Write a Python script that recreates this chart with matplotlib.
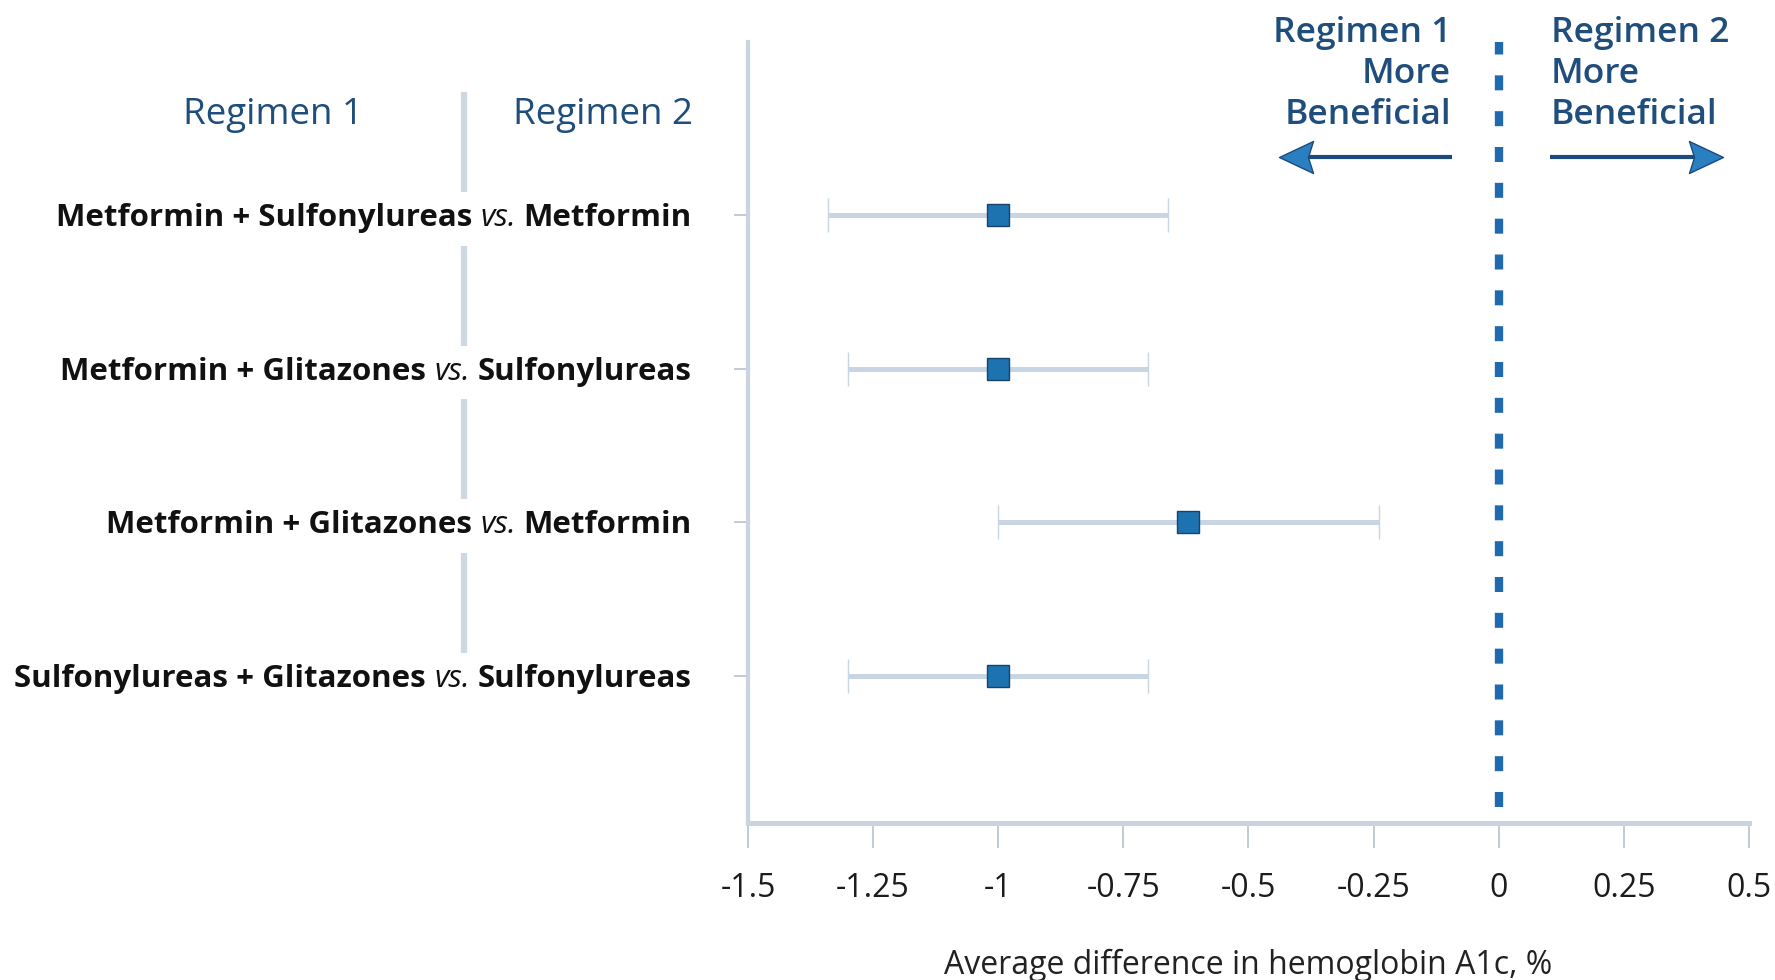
import numpy as np
import matplotlib
matplotlib.use("Agg")
import matplotlib.pyplot as plt
import matplotlib.transforms as mtransforms
from matplotlib.lines import Line2D
from matplotlib.path import Path

# ---- data ----
regimen_1 = ["Metformin + Sulfonylureas", "Metformin + Glitazones",
             "Metformin + Glitazones", "Sulfonylureas + Glitazones"]
regimen_2 = ["Metformin", "Sulfonylureas", "Metformin", "Sulfonylureas"]
mean_diff = [-1.00, -1.00, -0.62, -1.00]
ci_low = [-1.34, -1.30, -1.00, -1.30]
ci_high = [-0.66, -0.70, -0.24, -0.70]

x_ticks = [-1.5, -1.25, -1.0, -0.75, -0.5, -0.25, 0.0, 0.25, 0.5]
x_tick_labels = ["-1.5", "-1.25", "-1", "-0.75", "-0.5", "-0.25", "0", "0.25", "0.5"]
x_label = "Average difference in hemoglobin A1c, %"
column_headers = ["Regimen 1", "Regimen 2"]
favours_left = "Regimen 1\nMore\nBeneficial"
favours_right = "Regimen 2\nMore\nBeneficial"

# ---- style ----
plt.rcParams["font.family"] = ["Open Sans", "DejaVu Sans"]
NAVY = "#1f4d7c"
POINT_FACE = "#1d72b0"
POINT_EDGE = "#18436b"
CI_COLOR = "#c8d5e2"
AXIS_COLOR = "#c9d4e0"
DIVIDER_COLOR = "#cdd8e3"
TICK_COLOR = "#b6c2cf"
ZERO_COLOR = "#1f69ae"
ARROW_FACE = "#2a7fc0"
ARROW_EDGE = "#1b4a80"

W, H = 1775, 980
fig = plt.figure(figsize=(W / 100, H / 100), dpi=100)
fig.patch.set_facecolor("white")


def fig_xy(px, py):
    """Pixel position (from top-left) to figure fraction."""
    return px / W, 1 - py / H


ax = fig.add_axes([748 / W, 1 - 823 / H, 1001 / W, 781 / H])

rows = np.arange(len(mean_diff))
mean = np.asarray(mean_diff)
err = [mean - np.asarray(ci_low), np.asarray(ci_high) - mean]

ax.errorbar(mean, rows, xerr=err, fmt="s", ms=16.5, mfc=POINT_FACE,
            mec=POINT_EDGE, mew=1.0, ecolor=CI_COLOR, elinewidth=3.6,
            capsize=12, capthick=1.2, zorder=3)

# line of no difference
ax.axvline(0, ymin=0.02, ymax=1.0, color=ZERO_COLOR, lw=6.0,
           linestyle=(0, (1.8, 2.5)), zorder=2, clip_on=False)

ax.set_xlim(-1.5, 0.5)
ax.set_ylim(3.956, -1.126)
ax.set_xticks(x_ticks)
ax.set_xticklabels(x_tick_labels)
ax.set_yticks(rows)
ax.set_yticklabels([])

for side in ("top", "right"):
    ax.spines[side].set_visible(False)
ax.spines["left"].set_color(AXIS_COLOR)
ax.spines["left"].set_linewidth(3.0)
ax.spines["bottom"].set_color(AXIS_COLOR)
ax.spines["bottom"].set_linewidth(3.6)

ax.tick_params(axis="x", direction="out", length=18, width=1.2,
               color=TICK_COLOR, pad=17, labelsize=23, labelcolor="#1c1c1c")
ax.tick_params(axis="y", direction="out", length=10, width=1.2,
               color=TICK_COLOR, labelleft=False)
ax.set_xlabel(x_label, fontsize=23, labelpad=32, color="#222222")

# ---- comparison labels: "Regimen 1  vs.  Regimen 2" ----
renderer = fig.canvas.get_renderer()
label_tf = (mtransforms.blended_transform_factory(mtransforms.IdentityTransform(), ax.transData)
            + mtransforms.ScaledTranslation(0, -11 / 100, fig.dpi_scale_trans))
right_edge = 692
for row, r1, r2 in zip(rows, regimen_1, regimen_2):
    x = right_edge
    for txt, weight, style, gap in ((r2, "bold", "normal", 8),
                                    ("vs.", "normal", "italic", 8),
                                    (r1, "bold", "normal", 0)):
        t = fig.text(x, row, txt, transform=label_tf, ha="right", va="baseline",
                     fontsize=22.5, fontweight=weight, fontstyle=style,
                     color="#111111")
        x -= t.get_window_extent(renderer).width + gap

# column divider between the two regimen names
div_tf = mtransforms.blended_transform_factory(fig.transFigure, ax.transData)
for row in rows:
    fig.add_artist(Line2D([464 / W, 464 / W], [row - 0.8, row - 0.15],
                          transform=div_tf, color=DIVIDER_COLOR, lw=4.5,
                          solid_capstyle="butt"))

# column headers
for cx, name in zip((273, 603), column_headers):
    fig.text(*fig_xy(cx, 124), name, ha="center", va="baseline",
             fontsize=26.5, color=NAVY)

# direction-of-benefit headers
fig.text(*fig_xy(1451, 16), favours_left, ha="right", va="top",
         multialignment="right", fontsize=25.5, fontweight="semibold",
         linespacing=1.26, color=NAVY)
fig.text(*fig_xy(1551, 16), favours_right, ha="left", va="top",
         multialignment="left", fontsize=25.5, fontweight="semibold",
         linespacing=1.26, color=NAVY)

# direction arrows: shaft + swept arrowhead
head_left = Path([(0, 0), (1.0, 0.47), (0.85, 0.0), (1.0, -0.47), (0, 0)],
                 [Path.MOVETO, Path.LINETO, Path.LINETO, Path.LINETO, Path.CLOSEPOLY])
head_right = Path([(0, 0), (-1.0, 0.47), (-0.85, 0.0), (-1.0, -0.47), (0, 0)],
                  [Path.MOVETO, Path.LINETO, Path.LINETO, Path.LINETO, Path.CLOSEPOLY])
arrow_y = 157
for start, tip, head, notch in ((1452, 1279, head_left, 1305),
                                (1550, 1723, head_right, 1697)):
    x0, y0 = fig_xy(start, arrow_y)
    x1, _ = fig_xy(notch, arrow_y)
    fig.add_artist(Line2D([x0, x1], [y0, y0], transform=fig.transFigure,
                          color=ARROW_EDGE, lw=3.0, solid_capstyle="butt"))
    xt, yt = fig_xy(tip, arrow_y)
    fig.add_artist(Line2D([xt], [yt], transform=fig.transFigure, marker=head,
                          ms=49, mfc=ARROW_FACE, mec=ARROW_EDGE, mew=1.0,
                          linestyle="none"))

fig.savefig("out.png", dpi=100, facecolor="white")
